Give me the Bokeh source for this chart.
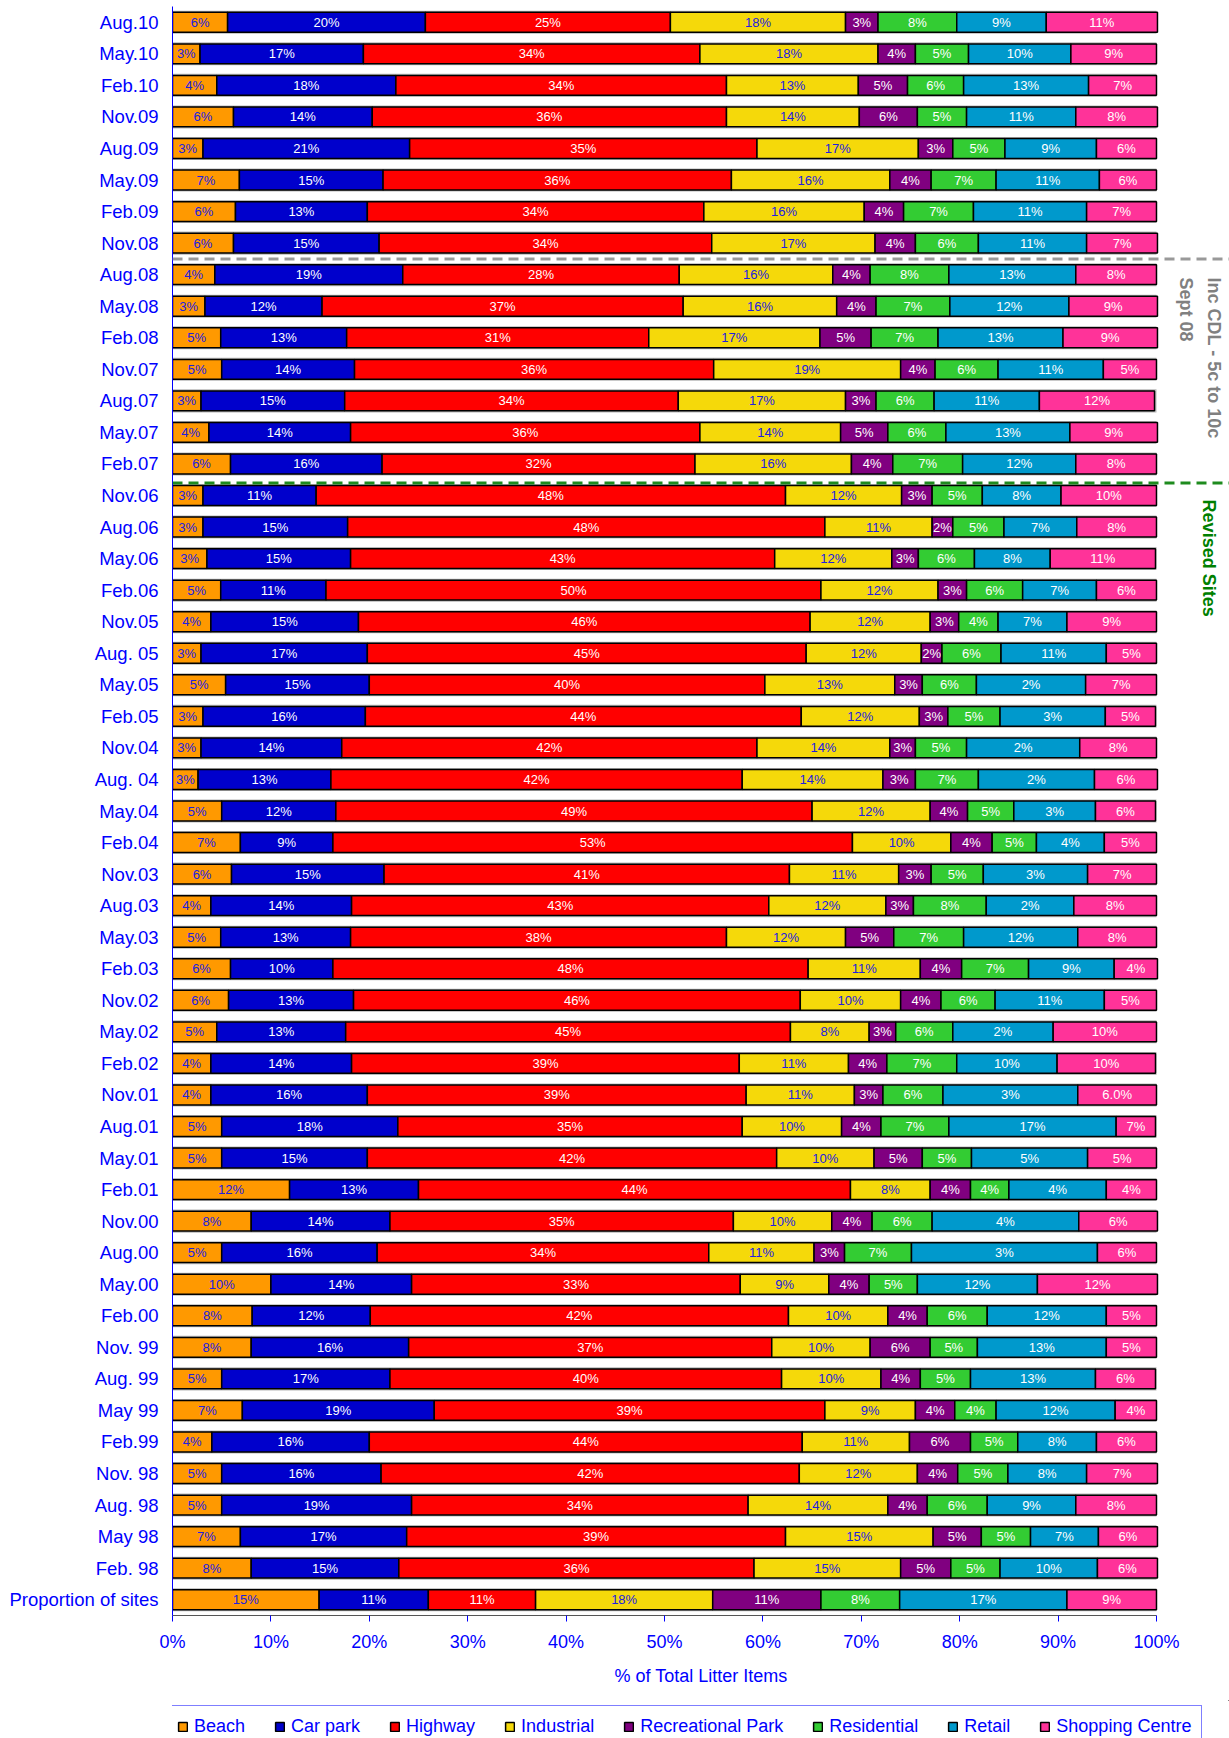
import math
from bokeh.plotting import figure
from bokeh.layouts import column
from bokeh.models import ColumnDataSource, Legend, LegendItem, Arrow, Label, FixedTicker, Range1d
from bokeh.embed import file_html
from bokeh.resources import INLINE
from bokeh.core.properties import value

periods = ["Aug.10", "May.10", "Feb.10", "Nov.09", "Aug.09", "May.09", "Feb.09", "Nov.08",
           "Aug.08", "May.08", "Feb.08", "Nov.07", "Aug.07", "May.07", "Feb.07", "Nov.06",
           "Aug.06", "May.06", "Feb.06", "Nov.05", "Aug. 05", "May.05", "Feb.05", "Nov.04",
           "Aug. 04", "May.04", "Feb.04", "Nov.03", "Aug.03", "May.03", "Feb.03", "Nov.02",
           "May.02", "Feb.02", "Nov.01", "Aug.01", "May.01", "Feb.01", "Nov.00", "Aug.00",
           "May.00", "Feb.00", "Nov. 99", "Aug. 99", "May 99", "Feb.99", "Nov. 98", "Aug. 98",
           "May 98", "Feb. 98", "Proportion of sites"]

categories = ["Beach", "Car park", "Highway", "Industrial", "Recreational Park",
              "Residential", "Retail", "Shopping Centre"]

# segment widths (% of total litter items), top row to bottom row
beach = [5.6, 2.8, 4.5, 6.2, 3.1, 6.8, 6.4, 6.2, 4.3, 3.3, 4.9, 5.0, 2.9, 3.7, 5.9, 3.1, 3.1,
         3.5, 4.9, 3.9, 2.9, 5.4, 3.1, 2.9, 2.6, 5.0, 6.9, 6.0, 3.9, 4.9, 5.9, 5.7, 4.5, 3.9,
         3.9, 5.0, 5.0, 11.9, 8.0, 5.0, 10.0, 8.1, 8.0, 5.0, 7.1, 4.0, 5.0, 5.0, 6.9, 8.0, 14.9]
car_park = [20.1, 16.6, 18.2, 14.1, 21.0, 14.6, 13.4, 14.8, 19.1, 11.9, 12.8, 13.5, 14.6, 14.4,
            15.4, 11.5, 14.7, 14.6, 10.7, 15.0, 16.9, 14.6, 16.5, 14.3, 13.5, 11.6, 9.4, 15.5,
            14.3, 13.2, 10.4, 12.7, 13.1, 14.3, 15.9, 17.9, 14.8, 13.1, 14.1, 15.8, 14.3, 12.0,
            16.0, 17.1, 19.5, 16.0, 16.2, 19.3, 16.9, 15.0, 11.1]
highway = [24.9, 34.2, 33.6, 36.0, 35.3, 35.4, 34.2, 33.8, 28.1, 36.7, 30.7, 36.5, 33.9, 35.5,
           31.8, 47.7, 48.5, 43.1, 50.3, 45.9, 44.6, 40.2, 44.3, 42.2, 41.8, 48.4, 52.8, 41.2,
           42.4, 38.2, 48.3, 45.4, 45.2, 39.4, 38.5, 35.0, 41.6, 43.9, 34.9, 33.7, 33.4, 42.5,
           36.9, 39.8, 39.7, 44.0, 42.5, 34.2, 38.5, 36.1, 10.9]
industrial = [17.8, 18.1, 13.4, 13.5, 16.4, 16.1, 16.3, 16.6, 15.6, 15.6, 17.4, 19.0, 17.0, 14.3,
              15.9, 11.8, 10.9, 11.9, 11.9, 12.2, 11.7, 13.2, 12.0, 13.5, 14.3, 12.0, 10.0, 11.1,
              11.9, 12.1, 11.4, 10.2, 8.0, 11.1, 11.0, 10.1, 9.9, 8.1, 10.0, 10.7, 9.0, 10.1,
              10.0, 10.1, 9.2, 10.9, 12.0, 14.2, 15.0, 14.9, 18.0]
rec_park = [3.3, 3.8, 5.0, 5.9, 3.5, 4.2, 4.0, 4.1, 3.8, 4.0, 5.2, 3.5, 3.1, 4.8, 4.2, 3.1, 2.1,
            2.7, 2.9, 2.9, 2.1, 2.8, 2.9, 2.6, 3.3, 3.8, 4.2, 3.3, 2.8, 4.9, 4.2, 4.1, 2.7, 3.9,
            2.9, 4.0, 4.9, 4.1, 4.1, 3.1, 4.1, 4.0, 6.1, 4.0, 4.0, 6.2, 4.1, 4.0, 4.9, 5.1, 11.0]
residential = [8.0, 5.4, 5.7, 5.0, 5.3, 6.6, 7.1, 6.4, 8.0, 7.5, 6.8, 6.4, 5.9, 5.9, 7.1, 5.1,
               5.2, 5.7, 5.7, 4.0, 6.0, 5.5, 5.3, 5.2, 6.4, 4.7, 4.5, 5.3, 7.4, 7.1, 6.8, 5.5,
               5.8, 7.1, 6.1, 6.9, 5.0, 3.9, 6.1, 6.8, 4.9, 6.1, 4.8, 5.1, 4.2, 4.8, 5.1, 6.1,
               5.0, 5.0, 8.0]
retail = [9.1, 10.4, 12.7, 11.1, 9.3, 10.5, 11.5, 11.0, 12.9, 12.1, 12.7, 10.7, 10.7, 12.6, 11.5,
          8.0, 7.4, 7.7, 7.5, 7.0, 10.7, 11.1, 10.7, 11.5, 11.8, 8.3, 6.9, 10.6, 8.9, 11.6, 8.7,
          11.1, 10.2, 10.2, 13.7, 17.0, 11.8, 9.9, 14.9, 18.9, 12.2, 12.1, 13.1, 12.7, 12.1, 8.0,
          8.0, 9.0, 6.9, 9.9, 17.0]
shopping = [11.3, 8.7, 6.9, 8.3, 6.1, 5.8, 7.1, 7.2, 8.2, 9.0, 9.6, 5.4, 11.7, 8.9, 8.2, 9.7,
            8.1, 10.7, 6.1, 9.1, 5.1, 7.2, 5.1, 7.8, 6.4, 6.1, 5.3, 7.0, 8.4, 8.0, 4.4, 5.3,
            10.5, 10.0, 8.0, 4.0, 7.0, 5.1, 8.0, 6.0, 12.2, 5.1, 5.1, 6.1, 4.2, 6.1, 7.2, 8.2,
            6.0, 6.1, 9.1]

# data labels as printed on the chart
beach_lbl = ["6%", "3%", "4%", "6%", "3%", "7%", "6%", "6%", "4%", "3%", "5%", "5%", "3%", "4%",
             "6%", "3%", "3%", "3%", "5%", "4%", "3%", "5%", "3%", "3%", "3%", "5%", "7%", "6%",
             "4%", "5%", "6%", "6%", "5%", "4%", "4%", "5%", "5%", "12%", "8%", "5%", "10%", "8%",
             "8%", "5%", "7%", "4%", "5%", "5%", "7%", "8%", "15%"]
car_park_lbl = ["20%", "17%", "18%", "14%", "21%", "15%", "13%", "15%", "19%", "12%", "13%",
                "14%", "15%", "14%", "16%", "11%", "15%", "15%", "11%", "15%", "17%", "15%",
                "16%", "14%", "13%", "12%", "9%", "15%", "14%", "13%", "10%", "13%", "13%",
                "14%", "16%", "18%", "15%", "13%", "14%", "16%", "14%", "12%", "16%", "17%",
                "19%", "16%", "16%", "19%", "17%", "15%", "11%"]
highway_lbl = ["25%", "34%", "34%", "36%", "35%", "36%", "34%", "34%", "28%", "37%", "31%",
               "36%", "34%", "36%", "32%", "48%", "48%", "43%", "50%", "46%", "45%", "40%",
               "44%", "42%", "42%", "49%", "53%", "41%", "43%", "38%", "48%", "46%", "45%",
               "39%", "39%", "35%", "42%", "44%", "35%", "34%", "33%", "42%", "37%", "40%",
               "39%", "44%", "42%", "34%", "39%", "36%", "11%"]
industrial_lbl = ["18%", "18%", "13%", "14%", "17%", "16%", "16%", "17%", "16%", "16%", "17%",
                  "19%", "17%", "14%", "16%", "12%", "11%", "12%", "12%", "12%", "12%", "13%",
                  "12%", "14%", "14%", "12%", "10%", "11%", "12%", "12%", "11%", "10%", "8%",
                  "11%", "11%", "10%", "10%", "8%", "10%", "11%", "9%", "10%", "10%", "10%",
                  "9%", "11%", "12%", "14%", "15%", "15%", "18%"]
rec_park_lbl = ["3%", "4%", "5%", "6%", "3%", "4%", "4%", "4%", "4%", "4%", "5%", "4%", "3%",
                "5%", "4%", "3%", "2%", "3%", "3%", "3%", "2%", "3%", "3%", "3%", "3%", "4%",
                "4%", "3%", "3%", "5%", "4%", "4%", "3%", "4%", "3%", "4%", "5%", "4%", "4%",
                "3%", "4%", "4%", "6%", "4%", "4%", "6%", "4%", "4%", "5%", "5%", "11%"]
residential_lbl = ["8%", "5%", "6%", "5%", "5%", "7%", "7%", "6%", "8%", "7%", "7%", "6%", "6%",
                   "6%", "7%", "5%", "5%", "6%", "6%", "4%", "6%", "6%", "5%", "5%", "7%", "5%",
                   "5%", "5%", "8%", "7%", "7%", "6%", "6%", "7%", "6%", "7%", "5%", "4%", "6%",
                   "7%", "5%", "6%", "5%", "5%", "4%", "5%", "5%", "6%", "5%", "5%", "8%"]
retail_lbl = ["9%", "10%", "13%", "11%", "9%", "11%", "11%", "11%", "13%", "12%", "13%", "11%",
              "11%", "13%", "12%", "8%", "7%", "8%", "7%", "7%", "11%", "2%", "3%", "2%", "2%",
              "3%", "4%", "3%", "2%", "12%", "9%", "11%", "2%", "10%", "3%", "17%", "5%", "4%",
              "4%", "3%", "12%", "12%", "13%", "13%", "12%", "8%", "8%", "9%", "7%", "10%", "17%"]
shopping_lbl = ["11%", "9%", "7%", "8%", "6%", "6%", "7%", "7%", "8%", "9%", "9%", "5%", "12%",
                "9%", "8%", "10%", "8%", "11%", "6%", "9%", "5%", "7%", "5%", "8%", "6%", "6%",
                "5%", "7%", "8%", "8%", "4%", "5%", "10%", "10%", "6.0%", "7%", "5%", "4%", "6%",
                "6%", "12%", "5%", "5%", "6%", "4%", "6%", "7%", "8%", "6%", "6%", "9%"]

x_ticks = [0, 10, 20, 30, 40, 50, 60, 70, 80, 90, 100]
x_tick_labels = ["0%", "10%", "20%", "30%", "40%", "50%", "60%", "70%", "80%", "90%", "100%"]

series = [beach, car_park, highway, industrial, rec_park, residential, retail, shopping]
series_lbl = [beach_lbl, car_park_lbl, highway_lbl, industrial_lbl, rec_park_lbl,
              residential_lbl, retail_lbl, shopping_lbl]
colors = ["#FF9900", "#0000CC", "#FF0000", "#F5D90A", "#800080", "#33CC33", "#0099CC", "#FF3399"]
text_colors = ["#2020E0", "#FFFFFF", "#FFFFFF", "#2020E0", "#FFFFFF", "#FFFFFF", "#FFFFFF", "#FFFFFF"]

BLUE = "#0000FF"
FONT = "Liberation Sans"

# frame spans from the y axis to the right edge so the side notes fit inside it
p = figure(width=1229, height=1700, y_range=list(reversed(periods)), x_range=Range1d(0, 107.42),
           output_backend="svg", toolbar_location=None,
           min_border_left=172, min_border_right=0, min_border_top=6, min_border_bottom=85)
p.outline_line_color = None
p.xgrid.grid_line_color = None
p.ygrid.grid_line_color = None

# light grey 3-D edge behind each bar
p.hbar(y=periods, left=0, right=100, height=0.73, fill_color="#b8b8b8", line_color=None)

left = [0.0] * len(periods)
for k, cat in enumerate(categories):
    vals = series[k]
    right = [l + v for l, v in zip(left, vals)]
    mid = [(l + r) / 2 for l, r in zip(left, right)]
    src = ColumnDataSource(dict(y=periods, left=left, right=right, mid=mid, lbl=series_lbl[k]))
    p.hbar(y="y", left="left", right="right", height=0.63, source=src,
           fill_color=colors[k], line_color="black", line_width=1.5)
    p.text(x="mid", y="y", text="lbl", source=src, text_align="center", text_baseline="middle",
           text_font=value(FONT), text_font_size="13px", text_color=text_colors[k])
    left = right

# axes
p.xaxis.bounds = (0, 100)
p.xaxis.ticker = FixedTicker(ticks=x_ticks)
p.xaxis.major_label_overrides = {t: s for t, s in zip(x_ticks, x_tick_labels)}
p.xaxis.axis_label = "% of Total Litter Items"
p.xaxis.axis_label_text_font = FONT
p.xaxis.axis_label_text_font_size = "18px"
p.xaxis.axis_label_text_font_style = "normal"
p.xaxis.axis_label_text_color = BLUE
p.xaxis.axis_label_standoff = 11
p.xaxis.major_label_text_font = FONT
p.xaxis.major_label_text_font_size = "18px"
p.xaxis.major_label_text_color = BLUE
p.xaxis.major_label_standoff = 10
p.xaxis.axis_line_color = "#555555"
p.xaxis.major_tick_line_color = BLUE
p.xaxis.major_tick_out = 6
p.xaxis.major_tick_in = 0
p.xaxis.minor_tick_line_color = None

p.yaxis.major_label_text_font = FONT
p.yaxis.major_label_text_font_size = "18.5px"
p.yaxis.major_label_text_color = BLUE
p.yaxis.major_label_standoff = 8
p.yaxis.major_tick_line_color = None
p.yaxis.axis_line_color = BLUE

# period separators
p.add_layout(Arrow(end=None, x_start=0, y_start=43, x_end=107.42, y_end=43,
                   line_color="#999999", line_width=3, line_dash="10 6"))
p.add_layout(Arrow(end=None, x_start=0, y_start=35.9, x_end=107.42, y_end=35.9,
                   line_color="#1E8B1E", line_width=3, line_dash="10 6"))

p.add_layout(Label(x=105.8, y=42.41, text="Inc CDL - 5c to 10c", angle=-math.pi / 2,
                   text_align="left", text_baseline="middle", text_font=FONT,
                   text_font_size="18px", text_font_style="bold", text_color="#808080"))
p.add_layout(Label(x=103.05, y=42.41, text="Sept 08", angle=-math.pi / 2,
                   text_align="left", text_baseline="middle", text_font=FONT,
                   text_font_size="18px", text_font_style="bold", text_color="#808080"))
p.add_layout(Label(x=105.3, y=35.37, text="Revised Sites", angle=-math.pi / 2,
                   text_align="left", text_baseline="middle", text_font=FONT,
                   text_font_size="18px", text_font_style="bold", text_color="#008000"))

# legend strip below the chart (its frame is aligned with the chart frame)
q = figure(width=1229, height=38, x_range=Range1d(0, 1), y_range=Range1d(0, 1),
           output_backend="svg", toolbar_location=None, x_axis_location=None,
           y_axis_location=None, min_border=0)
q.outline_line_color = None
q.xgrid.grid_line_color = None
q.ygrid.grid_line_color = None
legend_items = []
for k, cat in enumerate(categories):
    # keyed glyph kept outside the visible range; it only feeds the legend swatch
    r = q.hbar(y=[5], left=[5], right=[6], height=0.5, fill_color=colors[k],
               line_color="black", line_width=1.5)
    legend_items.append(LegendItem(label=cat, renderers=[r]))
legend = Legend(items=legend_items, orientation="horizontal", location=(-6, -10),
                glyph_width=11, glyph_height=11, label_standoff=6, spacing=29, padding=10,
                margin=0, label_text_font=FONT, label_text_font_size="18px",
                label_text_color=BLUE, border_line_color=BLUE, border_line_width=1,
                background_fill_color="white", background_fill_alpha=1)
q.add_layout(legend)

open("out.html", "w").write(file_html(column(p, q), INLINE))
